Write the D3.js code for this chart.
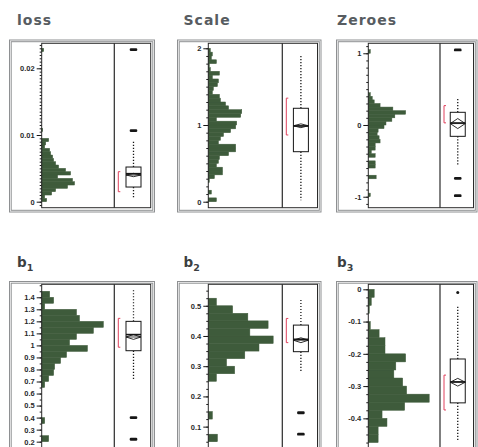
<!DOCTYPE html>
<html>
<head>
<meta charset="utf-8">
<script src="https://cdn.jsdelivr.net/npm/d3@7"></script>
<style>
  body { margin: 0; background: #fff; }
  svg { display: block; }
</style>
</head>
<body>
<svg id="chart" width="478" height="447"></svg>
<script>
// ---------- panel titles (name, subscript) ----------
const titles = [["loss", ""], ["Scale", ""], ["Zeroes", ""], ["b", "1"], ["b", "2"], ["b", "3"]];

// ---------- value axes ----------
const axisDomains = [[-0.0009, 0.02375], [-0.078, 2.065], [-1.153, 1.139], [0.139, 1.508], [0.026, 0.571], [-0.495, 0.0155]];
const majorTicks = [
  [0, 0.01, 0.02],
  [0, 1, 2],
  [-1, 0, 1],
  [0.2, 0.3, 0.4, 0.5, 0.6, 0.7, 0.8, 0.9, 1.0, 1.1, 1.2, 1.3, 1.4],
  [0.1, 0.2, 0.3, 0.4, 0.5],
  [-0.4, -0.3, -0.2, -0.1, 0]
];
const tickLabels = [
  ["0", "0.01", "0.02"],
  ["0", "1", "2"],
  ["-1", "0", "1"],
  ["0.2", "0.3", "0.4", "0.5", "0.6", "0.7", "0.8", "0.9", "1", "1.1", "1.2", "1.3", "1.4"],
  ["0.1", "0.2", "0.3", "0.4", "0.5"],
  ["-0.4", "-0.3", "-0.2", "-0.1", "0"]
];
const minorSteps = [0.0005, 0.1, 0.1, 0.05, 0.025, 0.025];

// ---------- histograms: [bin start, count] ----------
const binWidths = [0.0005, 0.05, 0.05, 0.05, 0.025, 0.025];
const lossBins = [[0, 5], [0.0005, 3], [0.001, 10], [0.0015, 14], [0.002, 26], [0.0025, 33], [0.003, 31], [0.0035, 16],
  [0.004, 29], [0.0045, 24], [0.005, 17], [0.0055, 14], [0.006, 12], [0.0065, 11], [0.007, 9], [0.0075, 8],
  [0.008, 3], [0.0085, 4], [0.009, 7], [0.0105, 1], [0.0225, 2]];
const scaleBins = [[0, 8], [0.1, 3], [0.25, 1], [0.3, 6], [0.35, 14], [0.4, 14], [0.45, 8], [0.5, 10], [0.55, 11],
  [0.6, 20], [0.65, 27], [0.7, 27], [0.75, 10], [0.8, 12], [0.85, 15], [0.9, 22], [0.95, 27], [1.0, 28], [1.05, 8],
  [1.1, 32], [1.15, 33], [1.2, 20], [1.25, 17], [1.3, 12], [1.35, 11], [1.4, 4], [1.45, 5], [1.5, 9], [1.55, 10],
  [1.6, 4], [1.65, 11], [1.7, 2], [1.75, 1], [1.8, 8], [1.85, 3], [1.9, 4], [1.95, 2]];
const zeroesBins = [[-1.0, 2], [-0.75, 8], [-0.6, 7], [-0.55, 7], [-0.45, 7], [-0.4, 3], [-0.35, 7], [-0.3, 7],
  [-0.25, 12], [-0.2, 11], [-0.15, 9], [-0.1, 10], [-0.05, 16], [0, 18], [0.05, 24], [0.1, 27], [0.15, 38],
  [0.2, 25], [0.25, 12], [0.3, 6], [0.35, 4], [0.4, 2], [1.0, 2]];
const b1Bins = [[0.2, 7], [0.35, 3], [0.65, 3], [0.7, 7], [0.75, 12], [0.8, 13], [0.85, 19], [0.9, 25], [0.95, 46],
  [1.0, 28], [1.05, 35], [1.1, 52], [1.15, 62], [1.2, 38], [1.25, 35], [1.3, 3], [1.35, 12], [1.4, 8]];
const b2Bins = [[0.05, 9], [0.125, 4], [0.25, 8], [0.275, 26], [0.3, 18], [0.325, 36], [0.35, 50], [0.375, 64],
  [0.4, 41], [0.425, 59], [0.45, 39], [0.475, 24], [0.5, 8]];
const b3Bins = [[-0.475, 10], [-0.45, 10], [-0.425, 19], [-0.4, 14], [-0.375, 37], [-0.35, 62], [-0.325, 39],
  [-0.3, 35], [-0.275, 26], [-0.25, 28], [-0.225, 38], [-0.2, 17], [-0.175, 17], [-0.15, 11], [-0.125, 2],
  [-0.075, 1], [-0.05, 3], [-0.025, 6]];
const allBins = [lossBins, scaleBins, zeroesBins, b1Bins, b2Bins, b3Bins];
const countMax = 73;

// ---------- outlier box plots: [lower whisker, Q1, median, Q3, upper whisker] ----------
const boxStats = [
  [0.0005, 0.0022, 0.0042, 0.0052, 0.009],
  [0.02, 0.652, 0.987, 1.218, 1.91],
  [-0.57, -0.158, 0.028, 0.177, 0.386],
  [0.71, 0.956, 1.09, 1.2, 1.46],
  [0.282, 0.348, 0.389, 0.436, 0.519],
  [-0.467, -0.352, -0.287, -0.216, -0.049]
];
// mean and half-width of the means diamond
const meanDiamonds = [[0.0040, 0.00025], [0.99, 0.025], [0.02, 0.07], [1.07, 0.02], [0.386, 0.008], [-0.288, 0.012]];
// outliers: [value, number of coincident points]
const outliers = [
  [[0.01065, 3], [0.0228, 3]],
  [],
  [[1.046, 3], [-0.744, 3], [-0.986, 3]],
  [[0.40, 3], [0.22, 3]],
  [[0.146, 3], [0.075, 3]],
  [[-0.01, 1]]
];
// shortest half bracket: [low, high]
const shortestHalf = [[0.0015, 0.0045], [0.87, 1.35], [0.03, 0.27], [0.985, 1.225], [0.378, 0.458], [-0.374, -0.266]];

// ---------- layout ----------
const colLayout = [
  { outerL: 9.5, outerR: 154.5, axisX: 41.7, divX: 114.3, innerR: 150.7, titleX: 17 },
  { outerL: 177.5, outerR: 321, axisX: 208.3, divX: 282.3, innerR: 317.5, titleX: 183.5 },
  { outerL: 336.5, outerR: 477, axisX: 368.3, divX: 440, innerR: 473.5, titleX: 337 }
];
const rowLayout = [
  { outerT: 40, outerB: 212, innerT: 43.3, innerB: 207.7, titleY: 25 },
  { outerT: 281.5, outerB: 453, innerT: 284.3, innerB: 449, titleY: 267 }
];

const green = "#3e5b3b";
const ink = "#161616";
const red = "#e0405c";

const svg = d3.select("#chart");

titles.forEach((t, i) => {
  const c = colLayout[i % 3], r = rowLayout[Math.floor(i / 3)];
  const g = svg.append("g");

  // title
  const title = g.append("text")
    .attr("x", c.titleX).attr("y", r.titleY)
    .attr("font-family", "'DejaVu Sans', Verdana, sans-serif")
    .attr("font-weight", "bold")
    .attr("font-size", i < 3 ? 14 : 13.5)
    .attr("letter-spacing", i < 3 ? 1 : 0)
    .attr("fill", i < 3 ? "#575c61" : "#3c3f42")
    .text(t[0]);
  if (t[1]) {
    title.append("tspan").attr("font-size", 9.5).attr("dy", 3.5).text(t[1]);
  }

  // outer double frame
  [0, 1.7].forEach(inset => {
    g.append("rect")
      .attr("x", c.outerL + inset).attr("y", r.outerT + inset)
      .attr("width", c.outerR - c.outerL - 2 * inset).attr("height", r.outerB - r.outerT - 2 * inset)
      .attr("fill", "none").attr("stroke", "#8e9092").attr("stroke-width", 1);
  });

  const y = d3.scaleLinear().domain(axisDomains[i]).range([r.innerB, r.innerT]);
  const x = d3.scaleLinear().domain([0, countMax]).range([c.axisX, c.divX]);

  // histogram bars (thin same-colour stroke closes hairline gaps between bins)
  const bw = binWidths[i];
  g.append("g").selectAll("rect").data(allBins[i]).join("rect")
    .attr("x", c.axisX)
    .attr("y", d => y(d[0] + bw))
    .attr("width", d => x(d[1]) - c.axisX)
    .attr("height", d => y(d[0]) - y(d[0] + bw))
    .attr("fill", green)
    .attr("stroke", green).attr("stroke-width", 0.5);

  // minor ticks
  const dom = axisDomains[i], step = minorSteps[i];
  const minor = d3.range(Math.ceil(dom[0] / step - 1e-9), Math.floor(dom[1] / step + 1e-9) + 1)
    .map(k => +(k * step).toFixed(6));
  g.append("g").attr("transform", `translate(${c.axisX},0)`)
    .call(d3.axisLeft(y).tickValues(minor).tickSize(2).tickFormat(""))
    .call(a => a.select(".domain").remove())
    .selectAll("line").attr("stroke", ink);

  // major ticks and labels
  const labels = tickLabels[i];
  g.append("g").attr("transform", `translate(${c.axisX},0)`)
    .call(d3.axisLeft(y).tickValues(majorTicks[i]).tickSize(5).tickPadding(2)
      .tickFormat((d, j) => labels[j]))
    .call(a => a.select(".domain").remove())
    .call(a => a.selectAll("line").attr("stroke", ink))
    .call(a => a.selectAll("text")
      .attr("font-family", "'Liberation Sans', Arial, sans-serif")
      .attr("font-size", 7.5).attr("font-weight", "bold").attr("fill", "#2a2a2a"));

  // plot frames
  g.append("rect")
    .attr("x", c.axisX).attr("y", r.innerT)
    .attr("width", c.innerR - c.axisX).attr("height", r.innerB - r.innerT)
    .attr("fill", "none").attr("stroke", "#2a2a2a").attr("stroke-width", 1);
  g.append("line")
    .attr("x1", c.divX).attr("x2", c.divX).attr("y1", r.innerT).attr("y2", r.innerB)
    .attr("stroke", "#2a2a2a").attr("stroke-width", 1.2);

  // box plot
  const [lo, q1, med, q3, hi] = boxStats[i];
  const cx = (c.divX + c.innerR) / 2 + 1, half = 7.5;
  g.append("line").attr("x1", cx).attr("x2", cx).attr("y1", y(q3)).attr("y2", y(hi))
    .attr("stroke", ink).attr("stroke-width", 1.3).attr("stroke-dasharray", "1.2,1.8");
  g.append("line").attr("x1", cx).attr("x2", cx).attr("y1", y(q1)).attr("y2", y(lo))
    .attr("stroke", ink).attr("stroke-width", 1.3).attr("stroke-dasharray", "1.2,1.8");
  g.append("rect")
    .attr("x", cx - half).attr("y", y(q3))
    .attr("width", 2 * half).attr("height", y(q1) - y(q3))
    .attr("fill", "#fff").attr("stroke", ink).attr("stroke-width", 1);
  const [mu, ci] = meanDiamonds[i];
  g.append("path")
    .attr("d", d3.line()([[cx - half, y(mu)], [cx, y(mu + ci)], [cx + half, y(mu)], [cx, y(mu - ci)], [cx - half, y(mu)]]))
    .attr("fill", "none").attr("stroke", ink).attr("stroke-width", 0.9);
  g.append("line").attr("x1", cx - half).attr("x2", cx + half).attr("y1", y(mu)).attr("y2", y(mu))
    .attr("stroke", ink).attr("stroke-width", 0.8);
  g.append("line").attr("x1", cx - half).attr("x2", cx + half).attr("y1", y(med)).attr("y2", y(med))
    .attr("stroke", ink).attr("stroke-width", 1.6);

  // outliers
  outliers[i].forEach(([v, n]) => {
    if (n > 1) {
      g.append("rect").attr("x", cx - 3.8).attr("y", y(v) - 1.4).attr("width", 7.6).attr("height", 2.8)
        .attr("rx", 1.2).attr("fill", ink);
    } else {
      g.append("circle").attr("cx", cx).attr("cy", y(v)).attr("r", 1.5).attr("fill", ink);
    }
  });

  // shortest half bracket
  const [sLo, sHi] = shortestHalf[i];
  const bx = c.divX + 4;
  g.append("path")
    .attr("d", `M${bx + 2},${y(sHi)}H${bx}V${y(sLo)}H${bx + 2}`)
    .attr("fill", "none").attr("stroke", red).attr("stroke-width", 1);
});
</script>
</body>
</html>
